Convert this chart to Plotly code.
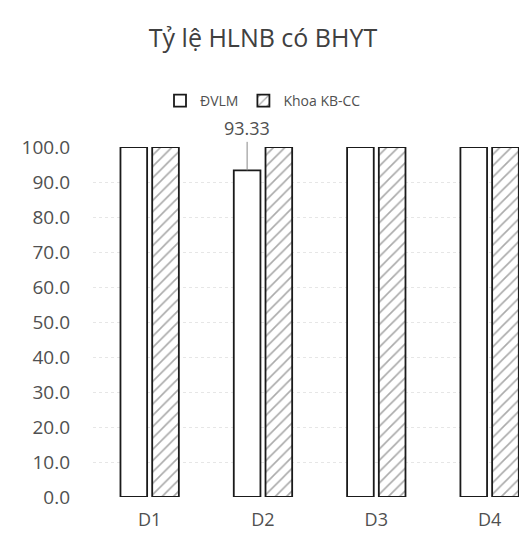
import plotly.graph_objects as go

categories = ["D1", "D2", "D3", "D4"]
dvlm = [100.0, 93.33, 100.0, 100.0]
khoa = [100.0, 100.0, 100.0, 100.0]
series_names = ["ĐVLM", "Khoa KB-CC"]
title_text = "Tỷ lệ HLNB có BHYT"
y_ticks = [0, 10, 20, 30, 40, 50, 60, 70, 80, 90, 100]

FONT = "'Open Sans', sans-serif"
bargap = 0.44
bargroupgap = 0.16

# figure is placed by the browser with an 8px body margin
W, H = 519, 530
L, T, B = 85, 139, 41
plot_w = W - L
plot_h = H - T - B

fig = go.Figure()
fig.add_trace(go.Bar(
    x=categories, y=dvlm, name=series_names[0],
    marker=dict(color="white", line=dict(color="#1a1a1a", width=1.8)),
))
fig.add_trace(go.Bar(
    x=categories, y=khoa, name=series_names[1],
    marker=dict(color="white", line=dict(color="#1a1a1a", width=1.8),
                pattern=dict(shape="/", fgcolor="#555555", bgcolor="white",
                             size=8, solidity=0.2)),
))

offset = -(1 - bargap) / 4
fig.add_annotation(
    x=1 + offset, y=dvlm[1], xref="x", yref="y",
    text=f"{dvlm[1]:.2f}", showarrow=True, arrowhead=0, arrowwidth=1,
    arrowcolor="#888888", ax=0, ay=-42,
    font=dict(family=FONT, size=18, color="#505050"),
)

fig.update_layout(
    width=W, height=H,
    margin=dict(l=L, r=0, t=T, b=B),
    paper_bgcolor="white", plot_bgcolor="white",
    barmode="group", bargap=bargap, bargroupgap=bargroupgap,
    title=dict(text=title_text, x=255 / W, xref="container", y=1 - 30 / H,
               yref="container", xanchor="center", yanchor="middle",
               font=dict(family=FONT, size=25, color="#404040")),
    legend=dict(orientation="h", x=(255 - L) / plot_w, xanchor="center",
                y=1 + 46 / plot_h, yanchor="middle",
                font=dict(family=FONT, size=14, color="#505050"),
                itemwidth=30, traceorder="normal"),
    font=dict(family=FONT, color="#505050"),
    showlegend=True,
)
fig.update_xaxes(range=[-0.5, 3.33], showline=False, showgrid=False,
                 tickfont=dict(size=18, color="#505050"), ticks="",
                 ticklabelstandoff=10)
fig.update_yaxes(range=[0, 100], tickvals=y_ticks,
                 ticktext=[f"{v:.1f}" for v in y_ticks],
                 showgrid=True, gridcolor="#e6e6e6", griddash="dot",
                 zeroline=False, showline=False,
                 tickfont=dict(size=19, color="#505050"), ticks="",
                 ticklabelstandoff=22)

fig.write_html("out.html")
